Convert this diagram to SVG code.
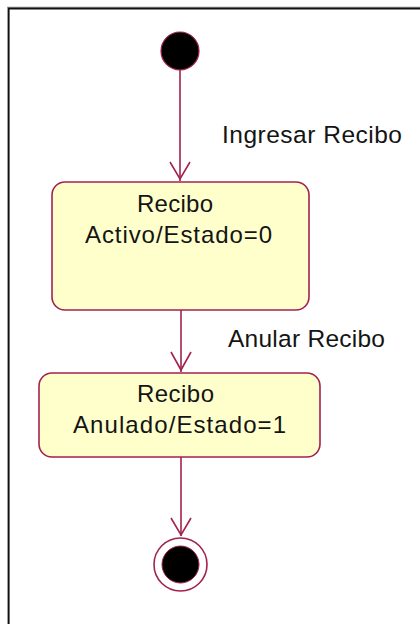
<svg xmlns="http://www.w3.org/2000/svg" width="420" height="624" viewBox="0 0 420 624">
  <defs>
    <style>
      .st { fill: #ffffcc; stroke: #a3224f; stroke-width: 1.6; }
      .ln { fill: none; stroke: #a3224f; stroke-width: 1.6; }
      .tx { font-family: "Liberation Sans", Arial, sans-serif; font-size: 24px; fill: #141414; }
      .lb { font-family: "Liberation Sans", Arial, sans-serif; font-size: 24.5px; fill: #141414; }
    </style>
  </defs>
  <rect x="0" y="0" width="420" height="624" fill="#ffffff"/>
  <line x1="7" y1="7.2" x2="420" y2="7.2" stroke="#9a9a9a" stroke-width="1"/>
  <path d="M8.6 624 V8.6 H420" fill="none" stroke="#111111" stroke-width="2"/>

  <g id="connectors">
    <line class="ln" x1="180" y1="70" x2="180" y2="181"/>
    <polyline class="ln" points="170,162 180,179 190,162"/>
    <line class="ln" x1="181" y1="310" x2="181" y2="372"/>
    <polyline class="ln" points="171,352 181,370 191,352"/>
    <line class="ln" x1="181" y1="457" x2="181" y2="536"/>
    <polyline class="ln" points="171,518 181,535 191,518"/>
    <text class="lb" x="222" y="143" textLength="180" lengthAdjust="spacing">Ingresar Recibo</text>
    <text class="lb" x="228" y="347" textLength="157" lengthAdjust="spacing">Anular Recibo</text>
  </g>

  <g id="start">
    <circle cx="180" cy="51" r="19" fill="#000000" stroke="#a3224f" stroke-width="1.2"/>
  </g>

  <g id="activo">
    <rect class="st" x="52" y="182" width="257" height="128" rx="13" ry="13"/>
    <text class="tx" x="137" y="212" textLength="76" lengthAdjust="spacing">Recibo</text>
    <text class="tx" x="85" y="243" textLength="187" lengthAdjust="spacing">Activo/Estado=0</text>
  </g>

  <g id="anulado">
    <rect class="st" x="39" y="373" width="281" height="84" rx="13" ry="13"/>
    <text class="tx" x="137" y="402" textLength="77" lengthAdjust="spacing">Recibo</text>
    <text class="tx" x="73" y="433" textLength="213" lengthAdjust="spacing">Anulado/Estado=1</text>
  </g>

  <g id="end">
    <circle cx="180.5" cy="564.5" r="26.5" fill="#ffffff" stroke="#a3224f" stroke-width="1.6"/>
    <circle cx="180.5" cy="564.5" r="18.5" fill="#000000" stroke="#a3224f" stroke-width="1"/>
  </g>
</svg>
